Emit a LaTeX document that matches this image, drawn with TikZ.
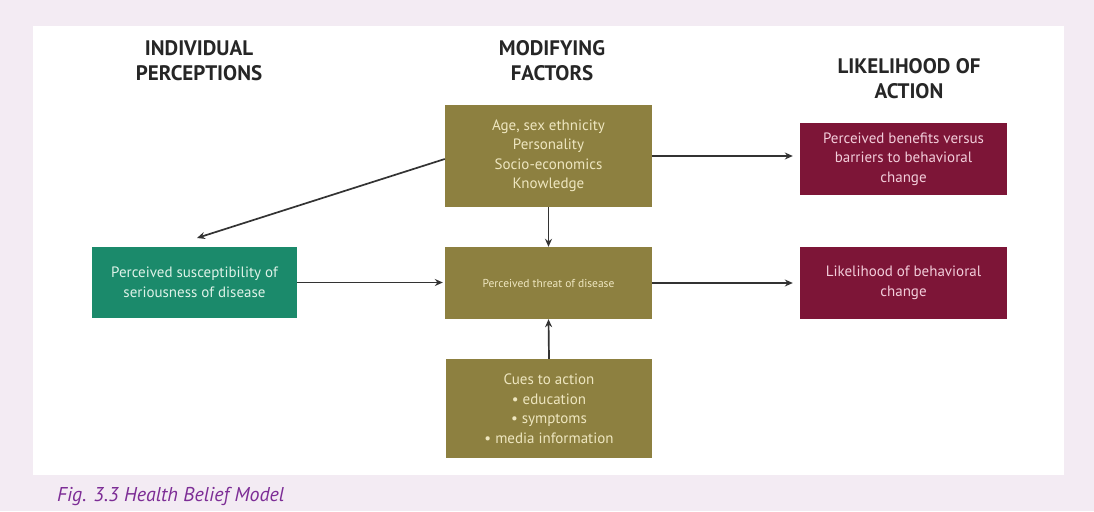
\documentclass[tikz,border=0pt]{standalone}
\usepackage{fontspec}
\setmainfont{PT Sans}
\usetikzlibrary{arrows.meta}
\definecolor{bgc}{RGB}{243,235,243}
\definecolor{olive}{RGB}{141,128,64}
\definecolor{grn}{RGB}{27,138,107}
\definecolor{maroon}{RGB}{125,21,55}
\definecolor{captc}{RGB}{125,45,150}
\definecolor{cream}{RGB}{238,230,192}
\definecolor{pinkt}{RGB}{242,205,218}
\definecolor{mint}{RGB}{222,242,232}
\tikzset{
  box/.style={rectangle, inner sep=4pt, align=center, font=\fontsize{15}{19.5}\selectfont},
  olivebox/.style={box, fill=olive, text=cream},
  greenbox/.style={box, fill=grn, text=mint},
  redbox/.style={box, fill=maroon, text=pinkt},
  header/.style={align=center, font=\fontsize{21}{25}\selectfont\bfseries, text=black!85},
  arr/.style={-{Stealth[length=8pt,width=7pt]}, line width=1.7pt, draw=black!80}
}
\begin{document}
\begin{tikzpicture}[x=1pt,y=-1pt]
\fill[bgc] (0,0) rectangle (1094,511);
\fill[white] (33,26) rectangle (1064,475);
\useasboundingbox (0,0) rectangle (1094,511);

\node[header] (h1) at (199,61) {INDIVIDUAL\\PERCEPTIONS};
\node[header] (h2) at (552,61) {MODIFYING\\FACTORS};
\node[header] (h3) at (909,79) {LIKELIHOOD OF\\ACTION};

\node[olivebox, minimum width=207pt, minimum height=102pt] (tb) at (548.5,156)
  {Age, sex ethnicity\\Personality\\Socio-economics\\Knowledge};
\node[olivebox, minimum width=207pt, minimum height=72pt, font=\fontsize{11.5}{14}\selectfont] (mid) at (548.5,283)
  {Perceived threat of disease};
\node[olivebox, minimum width=206pt, minimum height=99pt] (bot) at (549,408.5)
  {Cues to action\\\textbullet\ education\\\textbullet\ symptoms\\\textbullet\ media information};
\node[greenbox, minimum width=205pt, minimum height=71pt] (gb) at (194.5,282.5)
  {Perceived susceptibility of\\seriousness of disease};
\node[redbox, minimum width=207pt, minimum height=72pt] (r1) at (903.5,159)
  {Perceived benefits versus\\barriers to behavioral\\change};
\node[redbox, minimum width=207pt, minimum height=72pt] (r2) at (903.5,283)
  {Likelihood of behavioral\\change};

\coordinate (dtip) at (197,238);

\draw[arr, shorten >=7pt] (tb.east) -- (tb.east -| r1.west);
\draw[arr] (tb.south) -- (mid.north);
\draw[arr] ([yshift=-3pt]tb.west) -- (dtip);
\draw[arr, shorten >=2pt] (gb.east) -- (gb.east -| mid.west);
\draw[arr, shorten >=7pt] (mid.east) -- (mid.east -| r2.west);
\draw[arr] (bot.north) -- (mid.south);

\node[anchor=base west, text=captc, font=\fontsize{20}{24}\selectfont\itshape, inner sep=0pt] (cap) at (57,501)
  {Fig. 3.3 Health Belief Model};
\end{tikzpicture}
\end{document}
